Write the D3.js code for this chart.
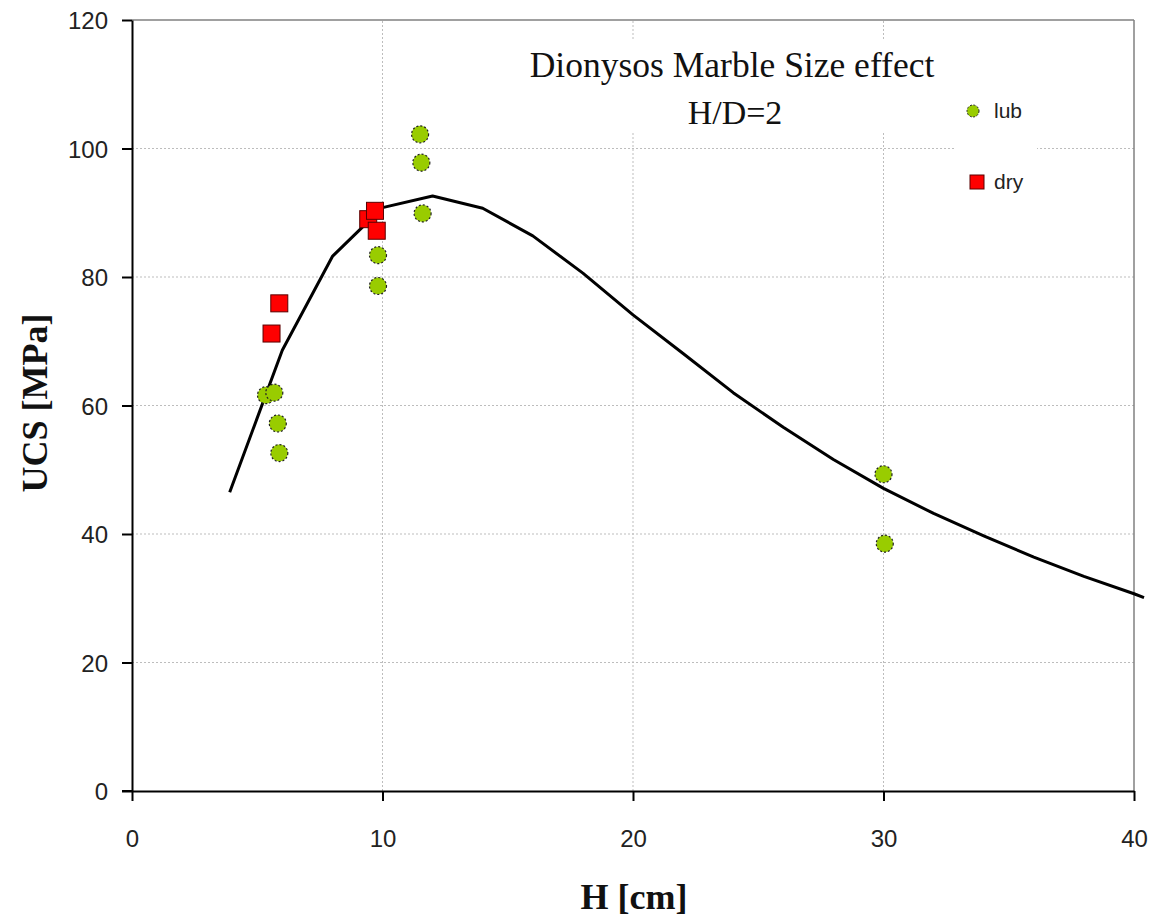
<!DOCTYPE html>
<html>
<head>
<meta charset="utf-8">
<script src="https://cdn.jsdelivr.net/npm/d3@7"></script>
<style>
  html, body { margin: 0; padding: 0; background: #fff; }
  svg { display: block; }
</style>
</head>
<body>
<svg id="chart" width="1149" height="919"></svg>
<script>
// ---- data ----
const xTicks = [0, 10, 20, 30, 40];
const yTicks = [0, 20, 40, 60, 80, 100, 120];

const lubH   = [5.35, 5.68, 5.82, 5.88, 9.82, 9.82, 11.5, 11.55, 11.6, 30.0, 30.05];
const lubUCS = [61.6, 62.0, 57.2, 52.6, 83.4, 78.6, 102.2, 97.8, 89.9, 49.3, 38.5];

const dryH   = [5.57, 5.88, 9.43, 9.77, 9.7];
const dryUCS = [71.2, 75.9, 89.0, 87.2, 90.3];

const fitH   = [3.9, 6, 8, 10, 12, 14, 16, 18, 20, 22, 24, 26, 28, 30, 32, 34, 36, 38, 40, 40.4];
const fitUCS = [46.5, 68.6, 83.2, 90.8, 92.6, 90.7, 86.4, 80.6, 74.1, 68.1, 62.0, 56.6, 51.6, 47.1, 43.2, 39.7, 36.4, 33.4, 30.7, 30.1];

const titleLines = ["Dionysos Marble Size effect", "H/D=2"];
const xLabel = "H [cm]";
const yLabel = "UCS [MPa]";
const legendNames = ["lub", "dry"];

// ---- layout ----
const svg = d3.select("#chart");
const x = d3.scaleLinear().domain([0, 40]).range([132, 1134]);
const y = d3.scaleLinear().domain([0, 120]).range([791, 20]);

const lubColor = "#99cc00";
const dryColor = "#ff0000";

// gridlines
const grid = svg.append("g");
grid.selectAll("line.h").data(yTicks.filter(d => d > 0 && d < 120)).join("line")
  .attr("x1", x(0)).attr("x2", x(40))
  .attr("y1", d => y(d)).attr("y2", d => y(d))
  .attr("stroke", "#bdbdbd").attr("stroke-width", 1).attr("stroke-dasharray", "2,2");
grid.selectAll("line.v").data(xTicks.filter(d => d > 0 && d < 40)).join("line")
  .attr("y1", y(0)).attr("y2", y(120))
  .attr("x1", d => x(d)).attr("x2", d => x(d))
  .attr("stroke", "#bdbdbd").attr("stroke-width", 1).attr("stroke-dasharray", "2,2");

// plot frame (top/right gray)
svg.append("line").attr("x1", x(0)).attr("x2", x(40)).attr("y1", y(120)).attr("y2", y(120))
  .attr("stroke", "#808080").attr("stroke-width", 1.5);
svg.append("line").attr("x1", x(40)).attr("x2", x(40)).attr("y1", y(120)).attr("y2", y(0))
  .attr("stroke", "#808080").attr("stroke-width", 1.5);

// title box (white background)
svg.append("rect").attr("x", 520).attr("y", 40).attr("width", 430).attr("height", 92).attr("fill", "#fff");
// legend box
svg.append("rect").attr("x", 955).attr("y", 92).attr("width", 82).attr("height", 118).attr("fill", "#fff");

// axes
const yAxis = d3.axisLeft(y).tickValues(yTicks).tickSize(10).tickPadding(14).tickSizeOuter(0);
const gy = svg.append("g").attr("transform", `translate(${x(0)},0)`).call(yAxis);
const xAxis = d3.axisBottom(x).tickValues(xTicks).tickSize(10).tickPadding(20).tickSizeOuter(0);
const gx = svg.append("g").attr("transform", `translate(0,${y(0)})`).call(xAxis);

[gx, gy].forEach(g => {
  g.select(".domain").attr("stroke", "#000").attr("stroke-width", 2);
  g.selectAll(".tick line").attr("stroke", "#000").attr("stroke-width", 2);
  g.selectAll(".tick text")
    .attr("font-family", "Liberation Sans, Arial, sans-serif")
    .attr("font-size", 24).attr("fill", "#222");
});
gy.selectAll(".tick text").attr("dy", "0.36em");
gx.selectAll(".tick text").attr("y", 56).attr("dy", 0);
// extend bottom axis slightly left to meet y tick
svg.append("line").attr("x1", x(0) - 10).attr("x2", x(0)).attr("y1", y(0)).attr("y2", y(0))
  .attr("stroke", "#000").attr("stroke-width", 2);

// fitted curve
const line = d3.line().x((d, i) => x(fitH[i])).y((d, i) => y(fitUCS[i]));
svg.append("path").datum(fitH).attr("d", line)
  .attr("fill", "none").attr("stroke", "#000").attr("stroke-width", 3).attr("stroke-linejoin", "round");

// lub points
svg.append("g").selectAll("circle").data(lubH).join("circle")
  .attr("cx", (d, i) => x(lubH[i])).attr("cy", (d, i) => y(lubUCS[i])).attr("r", 8.5)
  .attr("fill", lubColor).attr("stroke", "#222").attr("stroke-width", 1.2).attr("stroke-dasharray", "2,2");

// dry points
const s = 17;
svg.append("g").selectAll("rect").data(dryH).join("rect")
  .attr("x", (d, i) => x(dryH[i]) - s / 2).attr("y", (d, i) => y(dryUCS[i]) - s / 2)
  .attr("width", s).attr("height", s)
  .attr("fill", dryColor).attr("stroke", "#5a0000").attr("stroke-width", 1);

// title
svg.append("text").attr("x", 732).attr("y", 77).attr("text-anchor", "middle")
  .attr("font-family", "Liberation Serif, Times New Roman, serif").attr("font-size", 35.5).attr("fill", "#111")
  .text(titleLines[0]);
svg.append("text").attr("x", 735).attr("y", 124).attr("text-anchor", "middle")
  .attr("font-family", "Liberation Serif, Times New Roman, serif").attr("font-size", 34).attr("fill", "#111")
  .text(titleLines[1]);

// axis titles
svg.append("text").attr("x", 634).attr("y", 909).attr("text-anchor", "middle")
  .attr("font-family", "Liberation Serif, Times New Roman, serif").attr("font-weight", "bold")
  .attr("font-size", 36).attr("fill", "#111").text(xLabel);
svg.append("text").attr("transform", "translate(47,403) rotate(-90)").attr("text-anchor", "middle")
  .attr("font-family", "Liberation Serif, Times New Roman, serif").attr("font-weight", "bold")
  .attr("font-size", 36).attr("fill", "#111").text(yLabel);

// legend
const lg = svg.append("g");
lg.append("circle").attr("cx", 973).attr("cy", 111).attr("r", 6)
  .attr("fill", lubColor).attr("stroke", "#222").attr("stroke-width", 1).attr("stroke-dasharray", "2,1.5");
lg.append("rect").attr("x", 970).attr("y", 175).attr("width", 14).attr("height", 14)
  .attr("fill", dryColor).attr("stroke", "#5a0000").attr("stroke-width", 1);
lg.append("text").attr("x", 994).attr("y", 118)
  .attr("font-family", "Liberation Sans, Arial, sans-serif").attr("font-size", 21).attr("fill", "#222")
  .text(legendNames[0]);
lg.append("text").attr("x", 994).attr("y", 189)
  .attr("font-family", "Liberation Sans, Arial, sans-serif").attr("font-size", 21).attr("fill", "#222")
  .text(legendNames[1]);
</script>
</body>
</html>
